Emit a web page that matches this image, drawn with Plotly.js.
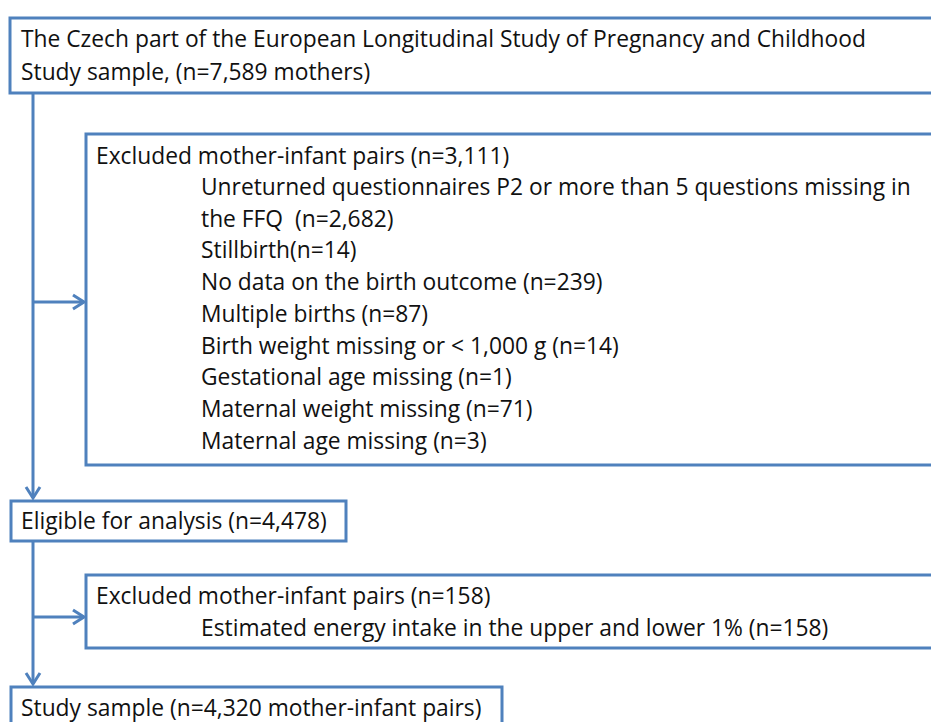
<!DOCTYPE html>
<html>
<head>
<meta charset="utf-8">
<script src="https://cdn.plot.ly/plotly-3.0.1.min.js"></script>
<style>html,body{margin:0;padding:0;background:#fff;}#chart{width:931px;height:722px;}</style>
</head>
<body>
<div id="chart"></div>
<script>
// ---- DATA (texts and counts of the flow chart) ----
const sourceLines = ["The Czech part of the European Longitudinal Study of Pregnancy and Childhood", "Study sample, (n=7,589 mothers)"];
const exclusion1Header = "Excluded mother-infant pairs (n=3,111)";
const exclusion1Items = [
  "Unreturned questionnaires P2 or more than 5 questions missing in",
  "the FFQ  (n=2,682)",
  "Stillbirth(n=14)",
  "No data on the birth outcome (n=239)",
  "Multiple births (n=87)",
  "Birth weight missing or < 1,000 g (n=14)",
  "Gestational age missing (n=1)",
  "Maternal weight missing (n=71)",
  "Maternal age missing (n=3)"
];
const eligibleText = "Eligible for analysis (n=4,478)";
const exclusion2Header = "Excluded mother-infant pairs (n=158)";
const exclusion2Items = ["Estimated energy intake in the upper and lower 1% (n=158)"];
const finalText = "Study sample (n=4,320 mother-infant pairs)";

// ---- LAYOUT / STYLE ----
const W = 931, H = 722;
const BLUE = "#4F81BD";
const LW = 3;
const FONT = {family: "'Open Sans', 'Noto Sans', sans-serif", size: 22.8, color: "#111"};
const shapes = [];
const annotations = [];

function rect(x0, y0, x1, y1) {
  shapes.push({type: "rect", xref: "x", yref: "y", x0, y0, x1, y1,
    line: {color: BLUE, width: LW}, fillcolor: "rgba(0,0,0,0)", layer: "above"});
}
function line(x0, y0, x1, y1) {
  shapes.push({type: "line", xref: "x", yref: "y", x0, y0, x1, y1, line: {color: BLUE, width: LW}});
}
function chevron(x, y, dir) {
  const a = 11, b = 7;
  let p;
  if (dir === "down") p = `M${x - b},${y - a} L${x},${y} L${x + b},${y - a}`;
  else p = `M${x - a},${y - b} L${x},${y} L${x - a},${y + b}`;
  shapes.push({type: "path", xref: "x", yref: "y", path: p, line: {color: BLUE, width: LW}});
}
function text(t, x, y) {
  annotations.push({text: t, x, y, xref: "x", yref: "y", xanchor: "left", yanchor: "middle",
    showarrow: false, font: FONT});
}

const lineStep = 31.7;

// Box 1
rect(10, 18, W + 10, 93);
sourceLines.forEach((t, i) => text(t, 19, 38.5 + i * 33));

// Box 2
rect(86, 134, W + 10, 465);
text(exclusion1Header, 94, 155);
exclusion1Items.forEach((t, i) => text(t, 199, 186.5 + i * lineStep));

// Box 3
rect(11, 501, 346, 541);
text(eligibleText, 19, 520);

// Box 4
rect(86, 575, W + 10, 648);
text(exclusion2Header, 94, 595);
exclusion2Items.forEach((t, i) => text(t, 199, 627.5 + i * lineStep));

// Box 5
rect(11, 687, 502, H + 10);
text(finalText, 19, 707);

// Connectors
line(33, 93, 33, 498);
chevron(33, 498, "down");
line(33, 302, 84, 302);
chevron(84, 302, "right");
line(33, 541, 33, 684);
chevron(33, 684, "down");
line(33, 617, 84, 617);
chevron(84, 617, "right");

const layout = {
  width: W, height: H,
  margin: {l: 0, r: 0, t: 0, b: 0},
  paper_bgcolor: "#fff", plot_bgcolor: "#fff",
  xaxis: {range: [0, W], visible: false, fixedrange: true},
  yaxis: {range: [H, 0], visible: false, fixedrange: true},
  showlegend: false,
  shapes, annotations
};
Plotly.newPlot("chart", [{x: [], y: [], type: "scatter", hoverinfo: "skip"}], layout, {staticPlot: true});
</script>
</body>
</html>
